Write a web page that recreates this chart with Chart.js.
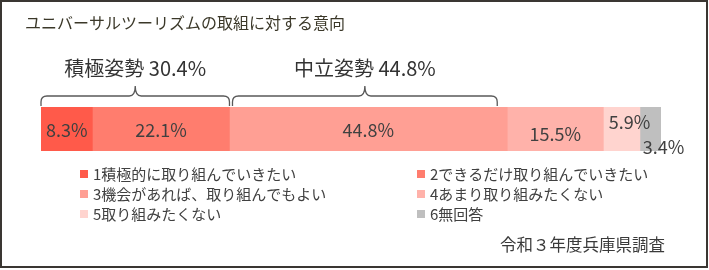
<!DOCTYPE html>
<html>
<head>
<meta charset="utf-8">
<script src="https://cdn.jsdelivr.net/npm/chart.js@4.4.1/dist/chart.umd.min.js"></script>
<style>
  html, body { margin: 0; padding: 0; background: #fff; }
  canvas { display: block; }
</style>
</head>
<body>
<canvas id="chart" width="709" height="270"></canvas>
<script>
// ---- data ----
const titleText = 'ユニバーサルツーリズムの取組に対する意向';
const sourceText = '令和３年度兵庫県調査';
const categories = ['意向'];
const seriesLabels = [
    '1積極的に取り組んでいきたい',
    '2できるだけ取り組んでいきたい',
    '3機会があれば、取り組んでもよい',
    '4あまり取り組みたくない',
    '5取り組みたくない',
    '6無回答'
];
const seriesValues = [8.3, 22.1, 44.8, 15.5, 5.9, 3.4];
const groupNames = ['積極姿勢', '中立姿勢'];
const groupMembers = [[0, 1], [2]];

// ---- styles ----
const FONT = '"Noto Sans CJK JP", "Noto Sans", sans-serif';
const seriesColors = ['#FF5A4A', '#FF7D6E', '#FF9F94', '#FFB2AA', '#FFD4CF', '#BFBFBF'];
// label nudges for the small segments (px)
const labelNudge = [[0, 0], [0, 0], [0, 0], [0, 4], [8, -8], [13, 17]];
// bracket insets in px [left, right]
const bracketInset = [[0, 0], [3, 10]];

function groupSum(idx) {
    return idx.reduce((s, i) => s + seriesValues[i], 0);
}

const decorPlugin = {
    id: 'decor',
    afterDraw(chart) {
        const ctx = chart.ctx;
        const xs = chart.scales.x;
        const area = chart.chartArea;
        ctx.save();

        // frame
        ctx.strokeStyle = '#3a3632';
        ctx.lineWidth = 2;
        ctx.strokeRect(1, 1, 706, 266);

        // title
        ctx.fillStyle = '#3b3829';
        ctx.font = '16px ' + FONT;
        ctx.textAlign = 'left';
        ctx.textBaseline = 'middle';
        ctx.fillText(titleText, 25, 23);

        // brackets + group labels
        ctx.strokeStyle = '#595959';
        ctx.lineWidth = 1.3;
        groupMembers.forEach((idx, g) => {
            let before = 0;
            for (let i = 0; i < idx[0]; i++) before += seriesValues[i];
            const total = groupSum(idx);
            const x1 = xs.getPixelForValue(before) + bracketInset[g][0];
            const x2 = xs.getPixelForValue(before + total) - bracketInset[g][1];
            const xm = (x1 + x2) / 2;
            const yBot = area.top - 1, yLine = 96, yPeak = 86, r = 6;
            ctx.beginPath();
            ctx.moveTo(x1, yBot);
            ctx.lineTo(x1, yLine + r);
            ctx.quadraticCurveTo(x1, yLine, x1 + r, yLine);
            ctx.lineTo(xm - r, yLine);
            ctx.quadraticCurveTo(xm, yLine, xm, yPeak);
            ctx.quadraticCurveTo(xm, yLine, xm + r, yLine);
            ctx.lineTo(x2 - r, yLine);
            ctx.quadraticCurveTo(x2, yLine, x2, yLine + r);
            ctx.lineTo(x2, yBot);
            ctx.stroke();

            ctx.fillStyle = '#333333';
            ctx.font = '20px ' + FONT;
            ctx.textAlign = 'center';
            ctx.fillText(groupNames[g] + ' ' + total.toFixed(1) + '%', xm, 68);
        });

        // value labels
        ctx.fillStyle = '#404040';
        ctx.font = '18px ' + FONT;
        ctx.textAlign = 'center';
        ctx.textBaseline = 'middle';
        chart.data.datasets.forEach((ds, i) => {
            const bar = chart.getDatasetMeta(i).data[0];
            const cx = (bar.x + bar.base) / 2 + labelNudge[i][0];
            const cy = bar.y + 1 + labelNudge[i][1];
            ctx.fillText(ds.data[0].toFixed(1) + '%', cx, cy);
        });

        // legend (two columns)
        ctx.font = '15px ' + FONT;
        ctx.textAlign = 'left';
        chart.data.datasets.forEach((ds, i) => {
            const col = i % 2, row = Math.floor(i / 2);
            const sx = col === 0 ? 80 : 417;
            const cy = 174 + row * 20;
            ctx.fillStyle = ds.backgroundColor;
            ctx.fillRect(sx, cy - 4, 8, 8);
            ctx.fillStyle = '#404040';
            ctx.fillText(ds.label, sx + 13, cy);
        });

        // source
        ctx.fillStyle = '#3a3a3a';
        ctx.font = '16.5px ' + FONT;
        ctx.textAlign = 'right';
        ctx.fillText(sourceText, 665, 245);

        ctx.restore();
    }
};

new Chart(document.getElementById('chart'), {
    type: 'bar',
    data: {
        labels: categories,
        datasets: seriesLabels.map((label, i) => ({
            label: label,
            data: [seriesValues[i]],
            backgroundColor: seriesColors[i],
            borderWidth: 0,
            barPercentage: 1,
            categoryPercentage: 1
        }))
    },
    options: {
        indexAxis: 'y',
        responsive: false,
        animation: false,
        layout: { padding: { left: 41, right: 48, top: 107, bottom: 119 } },
        scales: {
            x: { stacked: true, min: 0, max: 100, display: false },
            y: { stacked: true, display: false }
        },
        plugins: {
            legend: { display: false },
            tooltip: { enabled: false }
        }
    },
    plugins: [decorPlugin]
});
</script>
</body>
</html>
